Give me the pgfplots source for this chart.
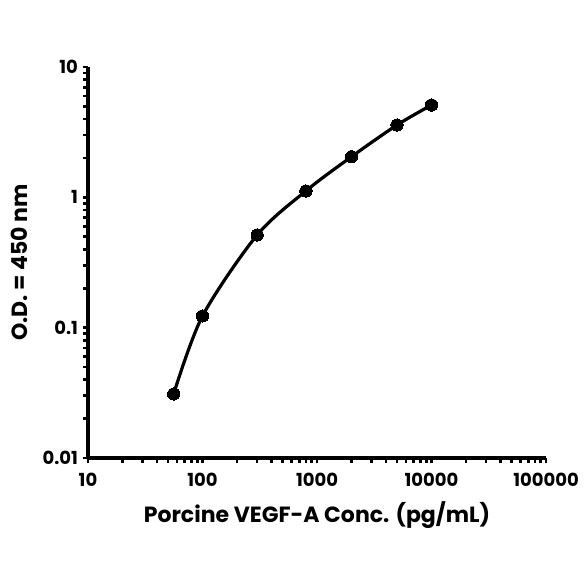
\documentclass[border=0pt]{standalone}
\usepackage{pgfplots}
\pgfplotsset{compat=1.18}
\usepackage{fontspec}
\setmainfont{Poppins}

% standard curve
\pgfplotstableread{
conc od
56 0.031
100 0.123
300 0.514
800 1.12
2000 2.05
5000 3.59
10000 5.11
}\stdcurve

\begin{document}
\begin{tikzpicture}
\begin{axis}[
  scale only axis,
  width=343.5pt, height=293.25pt,
  xmode=log, ymode=log,
  xmin=10, xmax=100000,
  ymin=0.01, ymax=10,
  axis x line*=bottom, axis y line*=left,
  every outer x axis line/.append style={line width=3pt, -},
  every outer y axis line/.append style={line width=3pt, -},
  xtick={10,100,1000,10000,100000},
  xticklabels={10,100,1000,10000,100000},
  ytick={0.01,0.1,1,10},
  yticklabels={0.01,0.1,1,10},
  tick align=outside,
  major tick length=4pt,
  minor tick length=3.5pt,
  every tick/.style={black, line width=2pt},
  tick label style={font=\bfseries\fontsize{13.5}{15}\selectfont},
  xticklabel style={yshift=-4pt},
  label style={font=\bfseries\fontsize{16.5}{19}\selectfont},
  xlabel={Porcine VEGF-A Conc. (pg/mL)},
  ylabel={O.D. = 450 nm},
  xlabel style={yshift=-4pt},
  ylabel style={yshift=4pt},
  clip=false,
]
\addplot[black, line width=2.4pt, smooth, mark=*, mark size=4.6pt,
  mark options={solid, line width=0pt}] table[x=conc, y=od] {\stdcurve};
\end{axis}
\path (-66pt,-94.5pt) rectangle (372pt,343.5pt);
\end{tikzpicture}
\end{document}
